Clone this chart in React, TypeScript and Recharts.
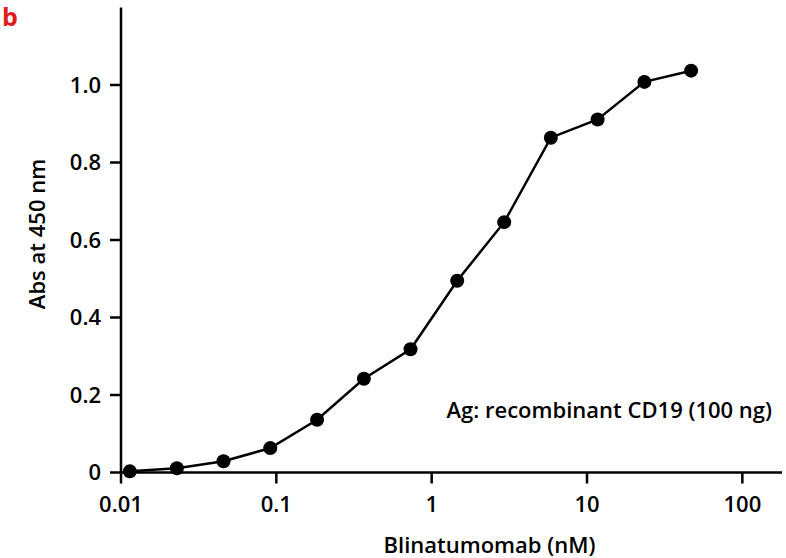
import React from 'react';
import { LineChart, Line, XAxis, YAxis } from 'recharts';

const concentrations = [0.0114, 0.0229, 0.0457, 0.0914, 0.183, 0.366, 0.731, 1.46, 2.93, 5.85, 11.7, 23.4, 46.8];
const absorbance = [0.003, 0.011, 0.029, 0.063, 0.136, 0.242, 0.318, 0.495, 0.646, 0.864, 0.911, 1.008, 1.037];
const xTicks = [0.01, 0.1, 1, 10, 100];
const yTicks = [0, 0.2, 0.4, 0.6, 0.8, 1.0];

const data = concentrations.map((c, i) => ({ conc: c, abs: absorbance[i] }));

const FONT = '"Open Sans", "Noto Sans", sans-serif';
const WEIGHT = 600;
const SIZE = 22;
const tickStyle = { fontFamily: FONT, fontSize: SIZE, fontWeight: WEIGHT, fill: '#000' };

const YLabel = (props: any) => {
  const vb = props.viewBox || { x: 0, y: 0, width: 0, height: 0 };
  const cx = 45;
  const cy = vb.y + vb.height / 2 - 6;
  return (
    <text
      x={cx}
      y={cy}
      textAnchor="middle"
      transform={`rotate(-90, ${cx}, ${cy})`}
      style={{ fontFamily: FONT, fontSize: SIZE, fontWeight: WEIGHT }}
      fill="#000"
    >
      Abs at 450 nm
    </text>
  );
};

export default function App() {
  return (
    <div style={{ position: 'absolute', left: 0, top: 0, width: 786, height: 558, background: '#fff' }}>
      <LineChart width={786} height={558} data={data} margin={{ top: 7.5, right: 4, left: 0, bottom: 0 }}>
        <XAxis
          dataKey="conc"
          type="number"
          scale="log"
          domain={[0.01, 180]}
          allowDataOverflow
          ticks={xTicks}
          tickFormatter={(v: number) => String(v)}
          height={85.5}
          tickSize={11}
          tickMargin={13}
          axisLine={{ stroke: '#000', strokeWidth: 2.5 }}
          tickLine={{ stroke: '#000', strokeWidth: 2.5 }}
          tick={tickStyle}
          label={{
            value: 'Blinatumomab (nM)',
            position: 'insideBottom',
            offset: 5,
            dx: 38,
            style: { fontFamily: FONT, fontSize: SIZE, fontWeight: WEIGHT, fill: '#000' },
          }}
        />
        <YAxis
          type="number"
          domain={[0, 1.2]}
          ticks={yTicks}
          width={121}
          tickSize={11}
          tickMargin={9}
          tickFormatter={(v: number) => (v === 0 ? '0' : v.toFixed(1))}
          axisLine={{ stroke: '#000', strokeWidth: 2.5 }}
          tickLine={{ stroke: '#000', strokeWidth: 2.5 }}
          tick={tickStyle}
          label={{ content: YLabel }}
        />
        <Line
          type="linear"
          dataKey="abs"
          stroke="#000"
          strokeWidth={2.5}
          dot={{ r: 7, fill: '#000', stroke: 'none' }}
          activeDot={false}
          isAnimationActive={false}
        />
      </LineChart>
      <svg width={786} height={558} style={{ position: 'absolute', left: 0, top: 0, pointerEvents: 'none' }}>
        <text x={2} y={26} style={{ fontFamily: FONT, fontSize: 25, fontWeight: 700 }} fill="#e31a1c">
          b
        </text>
        <text x={772} y={418} textAnchor="end" style={{ fontFamily: FONT, fontSize: SIZE, fontWeight: WEIGHT }} fill="#000">
          Ag: recombinant CD19 (100 ng)
        </text>
      </svg>
    </div>
  );
}
